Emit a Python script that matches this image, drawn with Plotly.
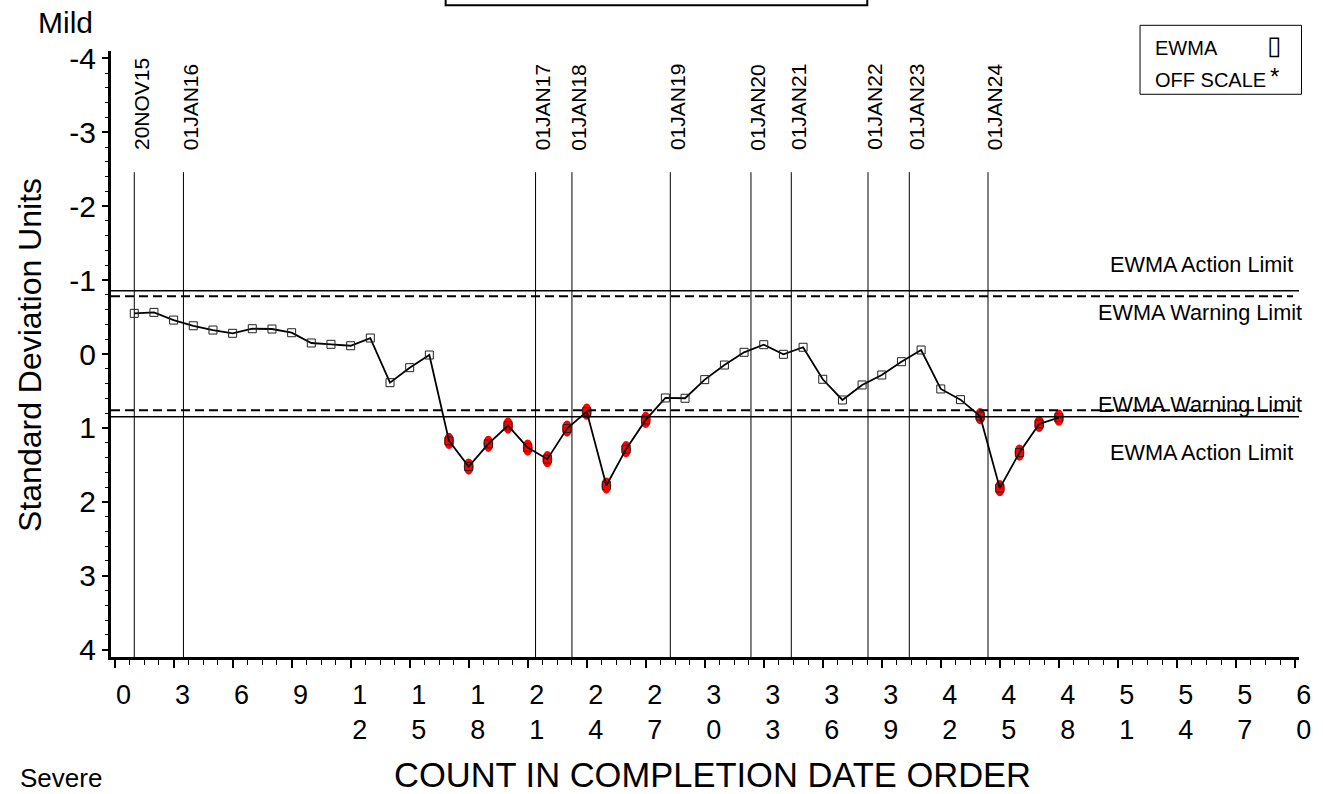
import plotly.graph_objects as go

# ---------------- data ----------------
counts = list(range(1, 49))
ewma = [-0.55, -0.563, -0.459, -0.382, -0.324, -0.280, -0.342, -0.338, -0.288, -0.149,
        -0.131, -0.112, -0.216, 0.388, 0.185, 0.014, 1.176, 1.523, 1.216, 0.969,
        1.266, 1.423, 1.009, 0.780, 1.780, 1.288, 0.892, 0.595, 0.599, 0.347,
        0.149, -0.023, -0.126, 0.004, -0.091, 0.342, 0.622, 0.419, 0.284, 0.104,
        -0.054, 0.473, 0.618, 0.841, 1.815, 1.334, 0.946, 0.861]

date_labels = ["20NOV15", "01JAN16", "01JAN17", "01JAN18", "01JAN19",
               "01JAN20", "01JAN21", "01JAN22", "01JAN23", "01JAN24"]
date_pos = [1.0, 3.5, 21.4, 23.25, 28.25, 32.35, 34.4, 38.3, 40.4, 44.4]

action_mild = -0.855
warning_mild = -0.78
warning_severe = 0.76
action_severe = 0.85

x_ticks = list(range(0, 61, 3))
x_tick_text = ["<br>".join(str(v)) for v in x_ticks]
y_ticks = [-4, -3, -2, -1, 0, 1, 2, 3, 4]
y_tick_text = [str(v) for v in y_ticks]

FONT = "Liberation Sans, Arial, sans-serif"

fig = go.Figure()

# vertical date reference lines
vx, vy = [], []
for d in date_pos:
    vx += [d, d, None]
    vy += [-2.46, 4.2, None]
fig.add_trace(go.Scatter(x=vx, y=vy, mode="lines",
                         line=dict(color="black", width=1), hoverinfo="skip",
                         showlegend=False))

# EWMA series
fig.add_trace(go.Scatter(x=counts, y=ewma, mode="lines+markers",
                         line=dict(color="black", width=1.8),
                         marker=dict(symbol="square-open", size=8, color="#222",
                                     line=dict(width=1)),
                         showlegend=False))

shapes = []
# red flags for points beyond warning limits
for x, y in zip(counts, ewma):
    if y > warning_severe or y < warning_mild:
        shapes.append(dict(type="circle", xref="x", yref="y",
                           x0=x - 0.25, x1=x + 0.25, y0=y - 0.11, y1=y + 0.11,
                           fillcolor="red", line=dict(width=0), layer="below"))

# limit lines
for val, dash, w in [(action_mild, "solid", 1.5), (action_severe, "solid", 1.5),
                     (warning_mild, "9px,5px", 2), (warning_severe, "9px,5px", 2)]:
    shapes.append(dict(type="line", xref="paper", yref="y", x0=0, x1=1 if dash == "solid" else 0.995,
                       y0=val, y1=val, line=dict(color="black", width=w, dash=dash)))

# title box (cut off at top) and legend box
shapes.append(dict(type="rect", xref="paper", yref="paper", x0=0.2817, x1=0.6366,
                   y0=1.0753, y1=1.3, line=dict(color="black", width=2)))
shapes.append(dict(type="rect", xref="paper", yref="paper", x0=0.8662, x1=1.0021,
                   y0=0.9286, y1=1.0424, line=dict(color="black", width=1)))

annotations = []
for lab, d in zip(date_labels, date_pos):
    annotations.append(dict(x=d, y=-2.73, xref="x", yref="y", text=lab, textangle=-90,
                            xanchor="left", yanchor="bottom", showarrow=False,
                            xshift=-7, font=dict(size=21, family=FONT, color="black")))

lim_font = dict(size=21.7, family=FONT, color="black")
annotations += [
    dict(x=0.9966, y=-1.216, xref="paper", yref="y", text="EWMA Action Limit",
         xanchor="right", yanchor="middle", showarrow=False, font=lim_font),
    dict(x=1.0042, y=-0.558, xref="paper", yref="y", text="EWMA Warning Limit",
         xanchor="right", yanchor="middle", showarrow=False, font=lim_font),
    dict(x=1.0042, y=0.68, xref="paper", yref="y", text="EWMA Warning Limit",
         xanchor="right", yanchor="middle", showarrow=False, font=lim_font),
    dict(x=0.9966, y=1.328, xref="paper", yref="y", text="EWMA Action Limit",
         xanchor="right", yanchor="middle", showarrow=False, font=lim_font),
]

leg_font = dict(size=20, family=FONT, color="black")
annotations += [
    dict(x=0.8771, y=1.0045, xref="paper", yref="paper", text="EWMA",
         xanchor="left", yanchor="middle", showarrow=False, font=leg_font),
    dict(x=0.979, y=1.0094, xref="paper", yref="paper", text="▯",
         xanchor="center", yanchor="middle", showarrow=False,
         font=dict(size=26, family="DejaVu Sans", color="black")),
    dict(x=0.8771, y=0.9517, xref="paper", yref="paper", text="OFF SCALE",
         xanchor="left", yanchor="middle", showarrow=False, font=leg_font),
    dict(x=0.979, y=0.958, xref="paper", yref="paper", text="*",
         xanchor="center", yanchor="middle", showarrow=False,
         font=dict(size=24, family=FONT, color="black")),
]

big = dict(size=30, family=FONT, color="black")
annotations += [
    dict(x=-0.0387, y=1.0473, xref="paper", yref="paper", text="Mild",
         xanchor="center", yanchor="middle", showarrow=False, font=big),
    dict(x=-0.042, y=-0.2, xref="paper", yref="paper", text="Severe",
         xanchor="center", yanchor="middle", showarrow=False,
         font=dict(size=26, family=FONT, color="black")),
    dict(x=-0.0682, y=0.4984, xref="paper", yref="paper", text="Standard Deviation Units",
         textangle=-90, xanchor="center", yanchor="middle", showarrow=False,
         font=dict(size=32, family=FONT, color="black")),
    dict(x=0.5067, y=-0.194, xref="paper", yref="paper", text="COUNT IN COMPLETION DATE ORDER",
         xanchor="center", yanchor="middle", showarrow=False,
         font=dict(size=34.5, family=FONT, color="black")),
]

fig.update_layout(
    width=1323, height=794,
    margin=dict(l=111, r=24, t=51, b=137),
    paper_bgcolor="white", plot_bgcolor="white",
    shapes=shapes, annotations=annotations,
    font=dict(family=FONT, color="black"),
    showlegend=False,
)

fig.update_xaxes(
    range=[-0.183, 60.21], tickmode="array", tickvals=x_ticks, ticktext=x_tick_text,
    ticks="outside", ticklen=8, tickwidth=1.5, tickcolor="black",
    minor=dict(dtick=0.75, tick0=0, ticks="outside", ticklen=5, tickwidth=1, tickcolor="black"),
    showline=True, linewidth=2.5, linecolor="black", showgrid=False, zeroline=False,
    tickfont=dict(size=27, family=FONT, color="black"),
    ticklabelshift=9, ticklabelstandoff=4,
)
fig.update_yaxes(
    range=[4.1, -4.1], tickmode="array", tickvals=y_ticks, ticktext=y_tick_text,
    ticks="outside", ticklen=6, tickwidth=1.5, tickcolor="black",
    minor=dict(dtick=0.2, tick0=0, ticks="outside", ticklen=3, tickwidth=1, tickcolor="black"),
    showline=True, linewidth=3, linecolor="black", showgrid=False, zeroline=False,
    tickfont=dict(size=30, family=FONT, color="black"),
)

fig.write_html("out.html", config={"displayModeBar": False},
               post_script="document.body.style.margin='0';document.body.style.overflow='hidden';")
